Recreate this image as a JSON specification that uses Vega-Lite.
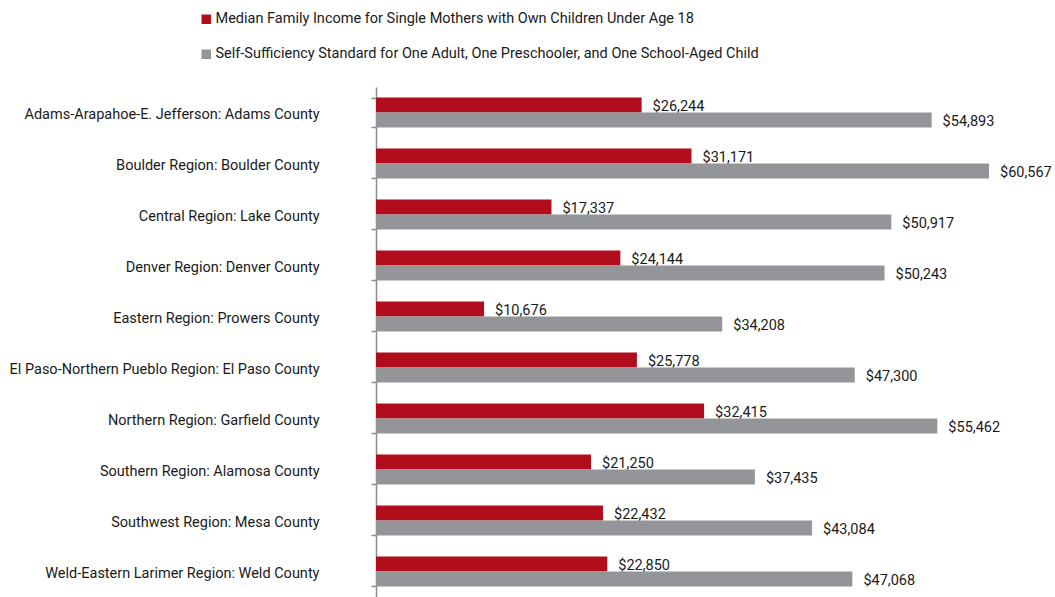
{
  "$schema": "https://vega.github.io/schema/vega-lite/v6.json",
  "autosize": {"type": "none"},
  "padding": {"left": 376, "top": 87, "right": 11, "bottom": 0},
  "width": 668,
  "height": 510,
  "background": "white",
  "config": {
    "view": {"stroke": null},
    "font": "Roboto",
    "text": {"font": "Roboto"}
  },
  "data": {
    "values": [
      {"region": "Adams-Arapahoe-E. Jefferson: Adams County", "series": "Median Family Income for Single Mothers with Own Children Under Age 18", "value": 26244},
      {"region": "Adams-Arapahoe-E. Jefferson: Adams County", "series": "Self-Sufficiency Standard for One Adult, One Preschooler, and One School-Aged Child", "value": 54893},
      {"region": "Boulder Region: Boulder County", "series": "Median Family Income for Single Mothers with Own Children Under Age 18", "value": 31171},
      {"region": "Boulder Region: Boulder County", "series": "Self-Sufficiency Standard for One Adult, One Preschooler, and One School-Aged Child", "value": 60567},
      {"region": "Central Region: Lake County", "series": "Median Family Income for Single Mothers with Own Children Under Age 18", "value": 17337},
      {"region": "Central Region: Lake County", "series": "Self-Sufficiency Standard for One Adult, One Preschooler, and One School-Aged Child", "value": 50917},
      {"region": "Denver Region: Denver County", "series": "Median Family Income for Single Mothers with Own Children Under Age 18", "value": 24144},
      {"region": "Denver Region: Denver County", "series": "Self-Sufficiency Standard for One Adult, One Preschooler, and One School-Aged Child", "value": 50243},
      {"region": "Eastern Region: Prowers County", "series": "Median Family Income for Single Mothers with Own Children Under Age 18", "value": 10676},
      {"region": "Eastern Region: Prowers County", "series": "Self-Sufficiency Standard for One Adult, One Preschooler, and One School-Aged Child", "value": 34208},
      {"region": "El Paso-Northern Pueblo Region: El Paso County", "series": "Median Family Income for Single Mothers with Own Children Under Age 18", "value": 25778},
      {"region": "El Paso-Northern Pueblo Region: El Paso County", "series": "Self-Sufficiency Standard for One Adult, One Preschooler, and One School-Aged Child", "value": 47300},
      {"region": "Northern Region: Garfield County", "series": "Median Family Income for Single Mothers with Own Children Under Age 18", "value": 32415},
      {"region": "Northern Region: Garfield County", "series": "Self-Sufficiency Standard for One Adult, One Preschooler, and One School-Aged Child", "value": 55462},
      {"region": "Southern Region: Alamosa County", "series": "Median Family Income for Single Mothers with Own Children Under Age 18", "value": 21250},
      {"region": "Southern Region: Alamosa County", "series": "Self-Sufficiency Standard for One Adult, One Preschooler, and One School-Aged Child", "value": 37435},
      {"region": "Southwest Region: Mesa County", "series": "Median Family Income for Single Mothers with Own Children Under Age 18", "value": 22432},
      {"region": "Southwest Region: Mesa County", "series": "Self-Sufficiency Standard for One Adult, One Preschooler, and One School-Aged Child", "value": 43084},
      {"region": "Weld-Eastern Larimer Region: Weld County", "series": "Median Family Income for Single Mothers with Own Children Under Age 18", "value": 22850},
      {"region": "Weld-Eastern Larimer Region: Weld County", "series": "Self-Sufficiency Standard for One Adult, One Preschooler, and One School-Aged Child", "value": 47068}
    ]
  },
  "encoding": {
    "y": {
      "field": "region",
      "type": "nominal",
      "sort": null,
      "scale": {"paddingInner": 0.412, "paddingOuter": 0.206},
      "axis": {
        "title": null,
        "domainColor": "#8c8c8c",
        "domainWidth": 1.5,
        "tickColor": "#8c8c8c",
        "tickWidth": 1.5,
        "tickSize": 5,
        "tickBand": "extent",
        "labelPadding": 52,
        "labelOffset": 1.5,
        "labelFontSize": 14.5,
        "labelColor": "#1a1a1a",
        "labelLimit": 400
      }
    },
    "yOffset": {
      "field": "series",
      "type": "nominal",
      "scale": {"paddingInner": 0, "paddingOuter": 0}
    },
    "x": {
      "field": "value",
      "type": "quantitative",
      "scale": {"domain": [0, 66000], "nice": false},
      "axis": null
    }
  },
  "layer": [
    {
      "mark": {"type": "bar"},
      "encoding": {
        "color": {
          "field": "series",
          "type": "nominal",
          "scale": {"range": ["#b10d1d", "#949598"]},
          "legend": {
            "title": null,
            "orient": "none",
            "legendX": -177,
            "legendY": -75,
            "direction": "vertical",
            "symbolType": "square",
            "symbolSize": 90,
            "symbolStrokeWidth": 0,
            "labelFontSize": 14.5,
            "labelColor": "#1a1a1a",
            "labelLimit": 800,
            "labelOffset": 2,
            "rowPadding": 20
          }
        }
      }
    },
    {
      "mark": {"type": "text", "align": "left", "baseline": "middle", "dx": 11, "dy": 2, "fontSize": 14.5, "color": "#1a1a1a"},
      "encoding": {
        "text": {"field": "value", "type": "quantitative", "format": "$,.0f"}
      }
    }
  ]
}
